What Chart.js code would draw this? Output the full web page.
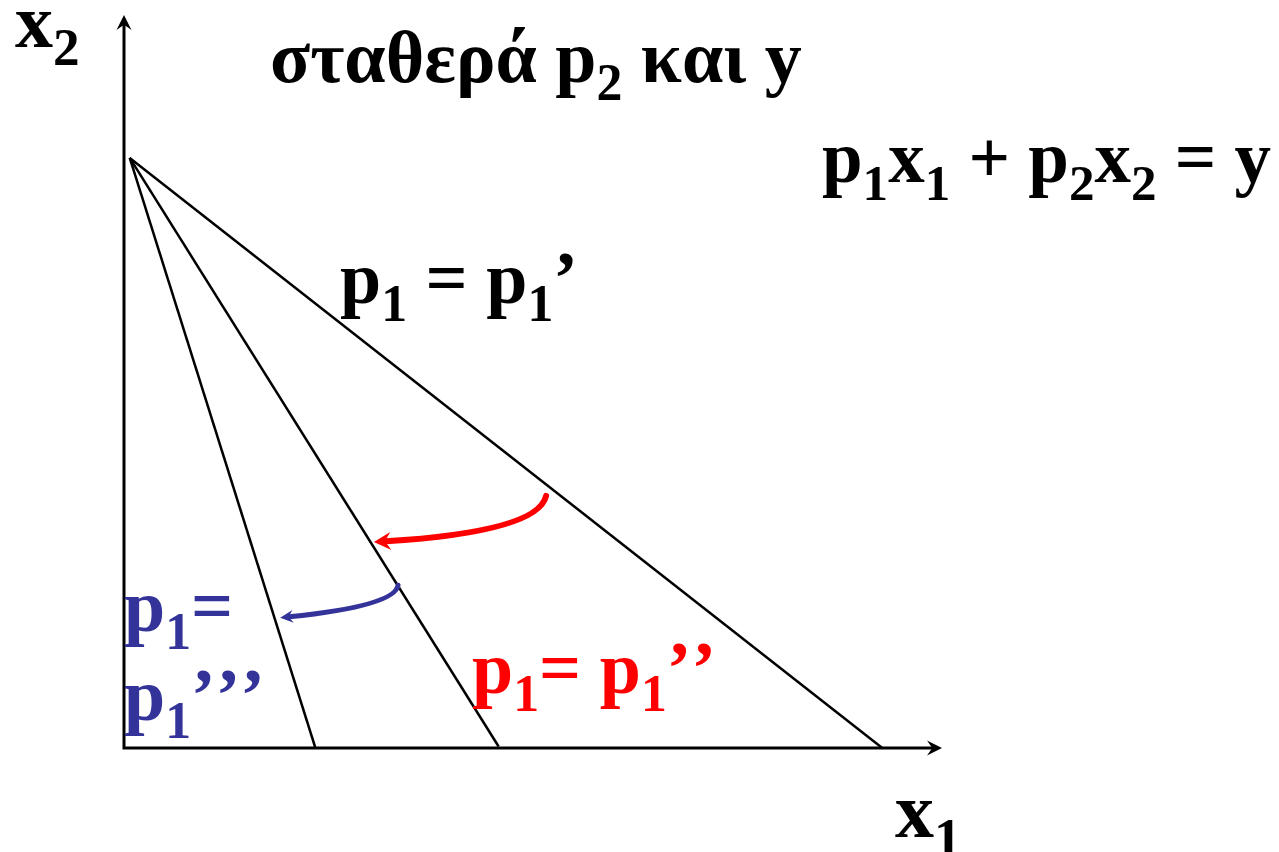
<!DOCTYPE html>
<html>
<head>
  <title>Budget line rotation</title>
  <script src="https://cdn.jsdelivr.net/npm/chart.js"></script>
  <style>
    body { margin: 0; background: #fff; }
  </style>
</head>
<body>
  <canvas id="budgetChart" width="1279" height="852"></canvas>

  <script>
    // common point on the x2 axis (y / p2)
    const apex = [0.07, 8.05];
    // where each budget line meets the x1 axis: p1', p1'', p1'''
    const interceptX = [9.27, 4.58, 2.34];
    const interceptY = [0, 0.02, 0];
    // curved arrows: start, control, end (data units)
    const redArrow = [[5.16, 3.44], [5.06, 2.95], [3.20, 2.82]];
    const blueArrow = [[3.35, 2.22], [3.31, 1.94], [2.02, 1.79]];
    // axis ranges
    const axisMax = [10, 10];

    const FONT = '"Liberation Serif", "Times New Roman", serif';
    const RED = '#ff0000';
    const BLUE = '#333399';

    // text pieces: [string, isSubscript]
    const labels = [
      { parts: [['x'], ['2', 1]], x: 15, y: 47, size: 76, color: '#000' },
      { parts: [['σταθερά p'], ['2', 1], [' και y']], x: 270, y: 82, size: 74, color: '#000' },
      { parts: [['p'], ['1', 1], ['x'], ['1', 1], [' + p'], ['2', 1], ['x'], ['2', 1], [' = y']], x: 822, y: 182, size: 73, color: '#000' },
      { parts: [['p'], ['1', 1], [' = p'], ['1', 1], ['’']], x: 340, y: 303, size: 74, color: '#000' },
      { parts: [['p'], ['1', 1], ['=']], x: 124, y: 631, size: 74, color: BLUE },
      { parts: [['p'], ['1', 1], ['’’’']], x: 124, y: 720, size: 74, color: BLUE },
      { parts: [['p'], ['1', 1], ['= p'], ['1', 1], ['’’']], x: 472, y: 693, size: 74, color: RED },
      { parts: [['x'], ['1', 1]], x: 895, y: 837, size: 78, color: '#000' }
    ];

    function drawRich(ctx, item) {
      let x = item.x;
      ctx.fillStyle = item.color;
      ctx.textBaseline = 'alphabetic';
      ctx.textAlign = 'left';
      ctx.fontKerning = 'none';
      item.parts.forEach(p => {
        const sub = p[1];
        const size = sub ? item.size * 0.7 : item.size;
        ctx.font = 'bold ' + size + 'px ' + FONT;
        ctx.fillText(p[0], x, item.y + (sub ? item.size * 0.24 : 0));
        x += ctx.measureText(p[0]).width;
      });
    }

    // filled arrowhead with a notched back
    function drawHead(ctx, tx, ty, ang, len, half, color) {
      const dx = Math.cos(ang), dy = Math.sin(ang);
      ctx.beginPath();
      ctx.moveTo(tx, ty);
      ctx.lineTo(tx - len * dx - half * dy, ty - len * dy + half * dx);
      ctx.lineTo(tx - len * 0.65 * dx, ty - len * 0.65 * dy);
      ctx.lineTo(tx - len * dx + half * dy, ty - len * dy - half * dx);
      ctx.closePath();
      ctx.fillStyle = color;
      ctx.fill();
    }

    function drawCurve(ctx, xs, ys, pts, color, width, headLen, headHalf) {
      const p = pts.map(q => [xs.getPixelForValue(q[0]), ys.getPixelForValue(q[1])]);
      ctx.beginPath();
      ctx.moveTo(p[0][0], p[0][1]);
      ctx.quadraticCurveTo(p[1][0], p[1][1], p[2][0], p[2][1]);
      ctx.strokeStyle = color;
      ctx.lineWidth = width;
      ctx.lineCap = 'round';
      ctx.stroke();
      const ang = Math.atan2(p[2][1] - p[1][1], p[2][0] - p[1][0]);
      drawHead(ctx, p[2][0] + Math.cos(ang) * headLen * 0.7, p[2][1] + Math.sin(ang) * headLen * 0.7,
        ang, headLen, headHalf, color);
    }

    const extras = {
      id: 'extras',
      beforeDatasetsDraw(chart) {
        const ctx = chart.ctx;
        const xs = chart.scales.x, ys = chart.scales.y;
        const ox = xs.getPixelForValue(0), oy = ys.getPixelForValue(0);
        const xEnd = xs.getPixelForValue(axisMax[0]), yEnd = ys.getPixelForValue(axisMax[1]);
        ctx.save();
        ctx.strokeStyle = '#000';
        ctx.lineWidth = 3;
        ctx.beginPath();
        ctx.moveTo(ox, yEnd + 8);
        ctx.lineTo(ox, oy);
        ctx.lineTo(xEnd - 8, oy);
        ctx.stroke();
        drawHead(ctx, ox, yEnd, -Math.PI / 2, 15, 7.5, '#000');
        drawHead(ctx, xEnd, oy, 0, 15, 7.5, '#000');
        ctx.restore();
      },
      afterDatasetsDraw(chart) {
        const ctx = chart.ctx;
        const xs = chart.scales.x, ys = chart.scales.y;
        ctx.save();
        drawCurve(ctx, xs, ys, redArrow, RED, 6, 17, 9);
        drawCurve(ctx, xs, ys, blueArrow, BLUE, 5, 13, 6.5);
        labels.forEach(l => drawRich(ctx, l));
        ctx.restore();
      }
    };

    const lineSets = interceptX.map((ix, i) => ({
      data: [{ x: apex[0], y: apex[1] }, { x: ix, y: interceptY[i] }],
      showLine: true,
      borderColor: '#000',
      borderWidth: 2.5,
      pointRadius: 0,
      fill: false
    }));

    const ctx = document.getElementById('budgetChart').getContext('2d');
    new Chart(ctx, {
      type: 'scatter',
      data: { datasets: lineSets },
      options: {
        responsive: false,
        animation: false,
        layout: { padding: { left: 124, right: 337, top: 15, bottom: 104 } },
        scales: {
          x: { type: 'linear', min: 0, max: axisMax[0], display: false },
          y: { type: 'linear', min: 0, max: axisMax[1], display: false }
        },
        plugins: {
          legend: { display: false },
          tooltip: { enabled: false }
        }
      },
      plugins: [extras]
    });
  </script>
</body>
</html>
